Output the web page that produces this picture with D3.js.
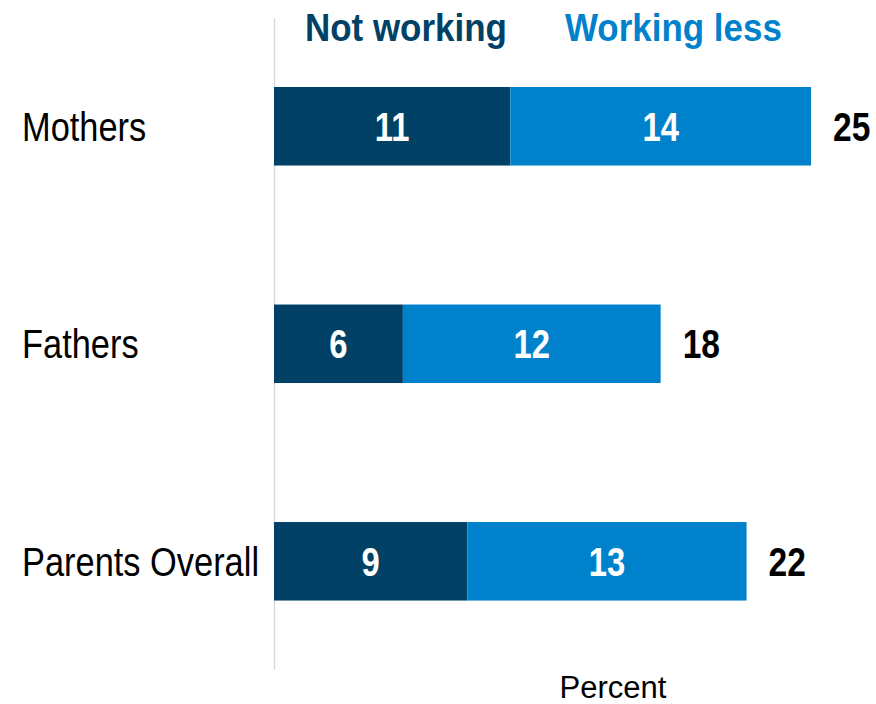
<!DOCTYPE html>
<html>
<head>
<meta charset="utf-8">
<script src="https://cdn.jsdelivr.net/npm/d3@7"></script>
<style>
  html, body { margin: 0; padding: 0; background: #fff; }
  svg { display: block; }
  text { font-family: "Liberation Sans", Arial, sans-serif; }
</style>
</head>
<body>
<svg id="chart" width="876" height="704"></svg>
<script>
// Share of parents not working / working less
const categories = ["Mothers", "Fathers", "Parents Overall"];
const seriesNames = ["Not working", "Working less"];
const notWorking = [11, 6, 9];
const workingLess = [14, 12 , 13];
const totals = [25, 18, 22];
const axisTitle = "Percent";

const colors = ["#004165", "#0081cb"];

const svg = d3.select("#chart");
const axisTop = 18, axisBottom = 670;

const x = d3.scaleLinear().domain([0, 25]).range([274, 811]);
const y = d3.scaleBand().domain(categories)
  .range([21.75, 665.8])
  .paddingInner(0.639).paddingOuter(0.3);

// condensed text: horizontal squeeze around the anchor point
const squeeze = (sx) => (sel, px, py) =>
  sel.attr("transform", (d, i) => `translate(${px(d, i)},${py(d, i)}) scale(${sx},1)`);

const rows = categories.map((c, i) => ({ cat: c, vals: [notWorking[i], workingLess[i]], total: totals[i] }));
const stacked = d3.stack().keys([0, 1]).value((d, k) => d.vals[k])(rows);

// vertical baseline
svg.append("line")
  .attr("x1", x(0) + 0.5).attr("x2", x(0) + 0.5)
  .attr("y1", axisTop).attr("y2", axisBottom)
  .attr("stroke", "#d9d9d9").attr("stroke-width", 1.5);

// stacked bar segments
const layers = svg.selectAll("g.layer").data(stacked).join("g")
  .attr("class", "layer").attr("fill", (d, i) => colors[i]);

layers.selectAll("rect").data(d => d).join("rect")
  .attr("x", d => x(d[0]))
  .attr("width", d => x(d[1]) - x(d[0]))
  .attr("y", d => y(d.data.cat))
  .attr("height", y.bandwidth());

// segment value labels
layers.selectAll("text").data(d => d).join("text")
  .call(squeeze(0.82),
        d => (x(d[0]) + x(d[1])) / 2,
        d => y(d.data.cat) + y.bandwidth() / 2)
  .attr("dy", "0.36em")
  .attr("text-anchor", "middle")
  .attr("fill", "#fff")
  .attr("font-weight", "bold")
  .attr("font-size", 40)
  .text(d => d[1] - d[0]);

// totals at bar ends
svg.selectAll("text.total").data(rows).join("text")
  .attr("class", "total")
  .call(squeeze(0.84),
        d => x(d.total) + 22,
        d => y(d.cat) + y.bandwidth() / 2)
  .attr("dy", "0.36em")
  .attr("fill", "#000")
  .attr("font-weight", "bold")
  .attr("font-size", 40)
  .text(d => d.total);

// category labels
svg.selectAll("text.cat").data(categories).join("text")
  .attr("class", "cat")
  .call(squeeze(0.86), () => 22, d => y(d) + y.bandwidth() / 2)
  .attr("dy", "0.36em")
  .attr("fill", "#000")
  .attr("font-size", 40)
  .text(d => d);

// legend above the bars
const legendX = [305, 565];
svg.selectAll("text.legend").data(seriesNames).join("text")
  .attr("class", "legend")
  .call(squeeze(0.92), (d, i) => legendX[i], () => 41)
  .attr("fill", (d, i) => colors[i])
  .attr("font-weight", "bold")
  .attr("font-size", 38)
  .text(d => d);

// axis title
svg.append("text")
  .attr("x", 613).attr("y", 698)
  .attr("text-anchor", "middle")
  .attr("font-size", 31)
  .attr("fill", "#000")
  .text(axisTitle);
</script>
</body>
</html>
